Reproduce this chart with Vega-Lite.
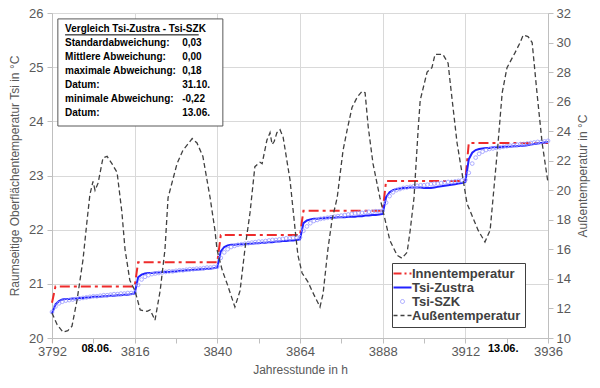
{
"$schema": "https://vega.github.io/schema/vega-lite/v6.json",
"width": 496, "height": 325,
"autosize": {"type": "none"},
"padding": {"left": 52, "top": 13, "right": 52, "bottom": 50},
"config": {
  "font": "Liberation Sans",
  "view": {"stroke": null},
  "axis": {"labelColor": "#595959", "titleColor": "#595959", "labelFontSize": 13, "titleFontSize": 12, "titleFontWeight": "normal", "domainColor": "#bfbfbf", "tickColor": "#bfbfbf", "tickSize": 5, "labelOverlap": false},
  "legend": {"orient": "none", "legendX": 340, "legendY": 250, "strokeColor": "#404040", "fillColor": "white", "padding": 4, "rowPadding": 0, "labelFontSize": 13, "labelFontWeight": "bold", "labelColor": "#404040", "symbolSize": 324, "labelOffset": 3, "titlePadding": 0}
},
"datasets": {
"hourly": [
{"h":3792,"zustra":20.45,"szk":20.48},{"h":3793,"zustra":20.62,"szk":20.58},{"h":3794,"zustra":20.68,"szk":20.64},{"h":3795,"zustra":20.71,"szk":20.67},{"h":3796,"zustra":20.72,"szk":20.69},{"h":3797,"zustra":20.72,"szk":20.70},{"h":3798,"zustra":20.73,"szk":20.71},{"h":3799,"zustra":20.73,"szk":20.72},{"h":3800,"zustra":20.74,"szk":20.73},{"h":3801,"zustra":20.74,"szk":20.74},{"h":3802,"zustra":20.75,"szk":20.75},{"h":3803,"zustra":20.75,"szk":20.76},{"h":3804,"zustra":20.76,"szk":20.77},{"h":3805,"zustra":20.76,"szk":20.77},{"h":3806,"zustra":20.76,"szk":20.78},{"h":3807,"zustra":20.77,"szk":20.79},{"h":3808,"zustra":20.77,"szk":20.79},{"h":3809,"zustra":20.78,"szk":20.80},{"h":3810,"zustra":20.78,"szk":20.81},{"h":3811,"zustra":20.79,"szk":20.81},{"h":3812,"zustra":20.79,"szk":20.82},{"h":3813,"zustra":20.80,"szk":20.82},{"h":3814,"zustra":20.80,"szk":20.83},{"h":3815,"zustra":20.81,"szk":20.83},{"h":3816,"zustra":20.82,"szk":20.84},
{"h":3817,"zustra":21.12,"szk":20.98},{"h":3818,"zustra":21.17,"szk":21.08},{"h":3819,"zustra":21.19,"szk":21.13},{"h":3820,"zustra":21.20,"szk":21.16},{"h":3821,"zustra":21.20,"szk":21.18},{"h":3822,"zustra":21.21,"szk":21.19},{"h":3823,"zustra":21.21,"szk":21.20},{"h":3824,"zustra":21.22,"szk":21.21},{"h":3825,"zustra":21.22,"szk":21.22},{"h":3826,"zustra":21.22,"szk":21.23},{"h":3827,"zustra":21.23,"szk":21.23},{"h":3828,"zustra":21.23,"szk":21.24},{"h":3829,"zustra":21.24,"szk":21.25},{"h":3830,"zustra":21.24,"szk":21.25},{"h":3831,"zustra":21.25,"szk":21.26},{"h":3832,"zustra":21.25,"szk":21.27},{"h":3833,"zustra":21.26,"szk":21.27},{"h":3834,"zustra":21.26,"szk":21.28},{"h":3835,"zustra":21.27,"szk":21.28},{"h":3836,"zustra":21.27,"szk":21.29},{"h":3837,"zustra":21.28,"szk":21.30},{"h":3838,"zustra":21.28,"szk":21.30},{"h":3839,"zustra":21.29,"szk":21.31},{"h":3840,"zustra":21.30,"szk":21.32},
{"h":3841,"zustra":21.60,"szk":21.48},{"h":3842,"zustra":21.68,"szk":21.58},{"h":3843,"zustra":21.71,"szk":21.64},{"h":3844,"zustra":21.72,"szk":21.68},{"h":3845,"zustra":21.72,"szk":21.70},{"h":3846,"zustra":21.73,"szk":21.72},{"h":3847,"zustra":21.73,"szk":21.73},{"h":3848,"zustra":21.73,"szk":21.74},{"h":3849,"zustra":21.74,"szk":21.75},{"h":3850,"zustra":21.74,"szk":21.76},{"h":3851,"zustra":21.75,"szk":21.77},{"h":3852,"zustra":21.75,"szk":21.78},{"h":3853,"zustra":21.76,"szk":21.78},{"h":3854,"zustra":21.76,"szk":21.79},{"h":3855,"zustra":21.77,"szk":21.80},{"h":3856,"zustra":21.77,"szk":21.81},{"h":3857,"zustra":21.78,"szk":21.81},{"h":3858,"zustra":21.78,"szk":21.82},{"h":3859,"zustra":21.79,"szk":21.83},{"h":3860,"zustra":21.79,"szk":21.84},{"h":3861,"zustra":21.80,"szk":21.84},{"h":3862,"zustra":21.80,"szk":21.85},{"h":3863,"zustra":21.81,"szk":21.86},{"h":3864,"zustra":21.82,"szk":21.86},
{"h":3865,"zustra":22.12,"szk":21.98},{"h":3866,"zustra":22.17,"szk":22.06},{"h":3867,"zustra":22.19,"szk":22.12},{"h":3868,"zustra":22.20,"szk":22.16},{"h":3869,"zustra":22.20,"szk":22.18},{"h":3870,"zustra":22.21,"szk":22.20},{"h":3871,"zustra":22.21,"szk":22.21},{"h":3872,"zustra":22.22,"szk":22.22},{"h":3873,"zustra":22.22,"szk":22.23},{"h":3874,"zustra":22.22,"szk":22.24},{"h":3875,"zustra":22.23,"szk":22.25},{"h":3876,"zustra":22.23,"szk":22.26},{"h":3877,"zustra":22.23,"szk":22.27},{"h":3878,"zustra":22.24,"szk":22.28},{"h":3879,"zustra":22.24,"szk":22.29},{"h":3880,"zustra":22.24,"szk":22.30},{"h":3881,"zustra":22.25,"szk":22.31},{"h":3882,"zustra":22.25,"szk":22.31},{"h":3883,"zustra":22.26,"szk":22.32},{"h":3884,"zustra":22.26,"szk":22.33},{"h":3885,"zustra":22.27,"szk":22.33},{"h":3886,"zustra":22.27,"szk":22.34},{"h":3887,"zustra":22.28,"szk":22.34},{"h":3888,"zustra":22.29,"szk":22.35},
{"h":3889,"zustra":22.60,"szk":22.50},{"h":3890,"zustra":22.69,"szk":22.62},{"h":3891,"zustra":22.73,"szk":22.69},{"h":3892,"zustra":22.75,"szk":22.73},{"h":3893,"zustra":22.76,"szk":22.75},{"h":3894,"zustra":22.77,"szk":22.77},{"h":3895,"zustra":22.77,"szk":22.78},{"h":3896,"zustra":22.78,"szk":22.79},{"h":3897,"zustra":22.78,"szk":22.80},{"h":3898,"zustra":22.78,"szk":22.81},{"h":3899,"zustra":22.78,"szk":22.82},{"h":3900,"zustra":22.77,"szk":22.82},{"h":3901,"zustra":22.77,"szk":22.83},{"h":3902,"zustra":22.77,"szk":22.84},{"h":3903,"zustra":22.78,"szk":22.85},{"h":3904,"zustra":22.79,"szk":22.85},{"h":3905,"zustra":22.80,"szk":22.86},{"h":3906,"zustra":22.81,"szk":22.87},{"h":3907,"zustra":22.82,"szk":22.88},{"h":3908,"zustra":22.83,"szk":22.88},{"h":3909,"zustra":22.84,"szk":22.89},{"h":3910,"zustra":22.85,"szk":22.90},{"h":3911,"zustra":22.86,"szk":22.91},{"h":3912,"zustra":22.88,"szk":22.92},
{"h":3913,"zustra":23.30,"szk":23.05},{"h":3914,"zustra":23.42,"szk":23.22},{"h":3915,"zustra":23.47,"szk":23.33},{"h":3916,"zustra":23.49,"szk":23.40},{"h":3917,"zustra":23.50,"szk":23.44},{"h":3918,"zustra":23.51,"szk":23.47},{"h":3919,"zustra":23.51,"szk":23.49},{"h":3920,"zustra":23.52,"szk":23.50},{"h":3921,"zustra":23.52,"szk":23.51},{"h":3922,"zustra":23.52,"szk":23.52},{"h":3923,"zustra":23.53,"szk":23.53},{"h":3924,"zustra":23.53,"szk":23.54},{"h":3925,"zustra":23.53,"szk":23.55},{"h":3926,"zustra":23.54,"szk":23.56},{"h":3927,"zustra":23.54,"szk":23.57},{"h":3928,"zustra":23.55,"szk":23.58},{"h":3929,"zustra":23.55,"szk":23.58},{"h":3930,"zustra":23.56,"szk":23.59},{"h":3931,"zustra":23.57,"szk":23.60},{"h":3932,"zustra":23.58,"szk":23.61},{"h":3933,"zustra":23.59,"szk":23.62},{"h":3934,"zustra":23.60,"szk":23.62},{"h":3935,"zustra":23.61,"szk":23.63},{"h":3936,"zustra":23.62,"szk":23.64}
],
"aussen": [
{"h":3792,"t":11.7},{"h":3793.5,"t":10.9},{"h":3795.2,"t":10.4},{"h":3796.6,"t":10.5},{"h":3797.8,"t":10.8},{"h":3799.3,"t":12.6},{"h":3801,"t":15.3},{"h":3802.2,"t":18.0},{"h":3803,"t":19.7},{"h":3803.9,"t":20.6},{"h":3804.5,"t":20.0},{"h":3805.4,"t":20.5},{"h":3806.8,"t":22.2},{"h":3808,"t":22.3},{"h":3809.4,"t":21.8},{"h":3810.9,"t":21.2},{"h":3812.3,"t":18.5},{"h":3813.2,"t":16.0},{"h":3814.6,"t":13.9},{"h":3816.1,"t":13.2},{"h":3817.6,"t":11.9},{"h":3819.6,"t":11.8},{"h":3820.5,"t":11.9},{"h":3821.9,"t":11.2},{"h":3823.4,"t":13.2},{"h":3824.8,"t":16.0},{"h":3825.7,"t":19.5},{"h":3828.3,"t":21.8},{"h":3830,"t":22.7},{"h":3832.7,"t":23.5},{"h":3834.1,"t":23.2},{"h":3835.8,"t":22.3},{"h":3837.9,"t":19.5},{"h":3839.3,"t":17.3},{"h":3839.9,"t":16.0},{"h":3841.4,"t":14.6},{"h":3842.8,"t":13.7},{"h":3845.1,"t":12.1},{"h":3846.6,"t":13.2},{"h":3848,"t":16.0},{"h":3849.5,"t":18.5},{"h":3850.9,"t":21.6},{"h":3852.4,"t":21.9},{"h":3853,"t":21.8},{"h":3854.4,"t":23.4},{"h":3855.3,"t":23.9},{"h":3855.9,"t":23.1},{"h":3856.5,"t":23.3},{"h":3857.3,"t":23.9},{"h":3858.2,"t":24.1},{"h":3859.1,"t":23.6},{"h":3861.1,"t":20.7},{"h":3862.6,"t":17.3},{"h":3863.4,"t":15.6},{"h":3864.6,"t":14.4},{"h":3866.3,"t":13.8},{"h":3868.1,"t":12.9},{"h":3869.8,"t":12.1},{"h":3870.7,"t":13.0},{"h":3872.1,"t":16.0},{"h":3873.3,"t":18.0},{"h":3874.8,"t":19.5},{"h":3876.5,"t":22.7},{"h":3877.7,"t":24.1},{"h":3879.1,"t":25.6},{"h":3880.6,"t":26.3},{"h":3882,"t":26.7},{"h":3882.9,"t":26.6},{"h":3883.8,"t":24.3},{"h":3885.2,"t":21.8},{"h":3887.2,"t":19.5},{"h":3890.1,"t":16.6},{"h":3892.2,"t":15.6},{"h":3893.6,"t":15.4},{"h":3895.1,"t":15.8},{"h":3896,"t":17.3},{"h":3897.1,"t":19.5},{"h":3898.3,"t":24.1},{"h":3898.9,"t":26.1},{"h":3900.9,"t":28.0},{"h":3902.3,"t":28.3},{"h":3903.2,"t":29.2},{"h":3905.5,"t":29.2},{"h":3907,"t":28.6},{"h":3907.6,"t":27.3},{"h":3909.6,"t":23.2},{"h":3912.5,"t":19.1},{"h":3915.7,"t":17.3},{"h":3917.7,"t":16.5},{"h":3919.2,"t":17.3},{"h":3921.5,"t":23.2},{"h":3922.7,"t":26.6},{"h":3924.1,"t":28.3},{"h":3926.4,"t":29.3},{"h":3927.9,"t":30.0},{"h":3928.8,"t":30.5},{"h":3930.2,"t":30.4},{"h":3931.4,"t":30.0},{"h":3932.8,"t":26.6},{"h":3934.3,"t":23.2},{"h":3936,"t":20.5}
],
"innen": [
{"h":3792,"t":20.65},{"h":3793,"t":20.95},{"h":3816,"t":20.95},{"h":3817,"t":21.4},{"h":3840,"t":21.4},{"h":3841,"t":21.9},{"h":3864,"t":21.9},{"h":3865,"t":22.35},{"h":3888,"t":22.35},{"h":3889,"t":22.9},{"h":3912,"t":22.9},{"h":3913,"t":23.6},{"h":3936,"t":23.6}
],
"dates": [{"h":3805,"t":"08.06."},{"h":3923,"t":"13.06."}],
"box": [
{"line":0,"label":"Vergleich Tsi-Zustra - Tsi-SZK","value":""},
{"line":1,"label":"Standardabweichung:","value":"0,03"},
{"line":2,"label":"Mittlere Abweichung:","value":"0,00"},
{"line":3,"label":"maximale Abweichung:","value":"0,18"},
{"line":4,"label":"Datum:","value":"31.10."},
{"line":5,"label":"minimale Abweichung:","value":"-0,22"},
{"line":6,"label":"Datum:","value":"13.06."}
]
},
"layer": [
{"layer": [
  {"data": {"name": "innen"},
   "mark": {"type": "line", "strokeWidth": 2, "strokeDash": [10, 4, 3, 4]},
   "encoding": {
     "x": {"field": "h", "type": "quantitative", "scale": {"domain": [3792, 3936], "nice": false, "zero": false}, "title": "Jahresstunde in h",
       "axis": {"values": [3792,3804,3816,3828,3840,3852,3864,3876,3888,3900,3912,3924,3936], "format": "d", "labelExpr": "datum.value % 24 === 0 ? datum.label : ''", "labelPadding": 2, "titlePadding": 6, "labelFlush": false, "labelOverlap": false, "grid": true, "gridColor": {"condition": {"test": "datum.value % 24 === 0", "value": "#d9d9d9"}, "value": "transparent"}}},
     "y": {"field": "t", "type": "quantitative", "scale": {"domain": [20, 26], "nice": false, "zero": false}, "title": "Raumseitige Oberflächentemperatur Tsi in °C",
       "axis": {"orient": "left", "values": [20,20.5,21,21.5,22,22.5,23,23.5,24,24.5,25,25.5,26], "labelExpr": "datum.value % 1 === 0 ? format(datum.value, 'd') : ''", "labelPadding": 4, "titlePadding": 7, "labelOverlap": false, "grid": true, "gridColor": {"condition": {"test": "datum.value % 1 === 0", "value": "#d9d9d9"}, "value": "#eeeeee"}}},
     "color": {"datum": "Innentemperatur", "type": "nominal",
       "scale": {"domain": ["Innentemperatur", "Tsi-Zustra", "Tsi-SZK", "Außentemperatur"], "range": ["#ee2b2b", "#2222ff", "#9f9fff", "#404040"]},
       "legend": {"title": null, "encode": {"symbols": {"update": {
          "shape": {"signal": "datum.value === 'Tsi-SZK' ? 'circle' : 'stroke'"},
          "size": {"signal": "datum.value === 'Tsi-SZK' ? 16 : 324"},
          "strokeDash": {"signal": "datum.value === 'Innentemperatur' ? [8,3,2,3] : datum.value === 'Außentemperatur' ? [4,3] : [1,0]"},
          "strokeWidth": {"signal": "datum.value === 'Tsi-SZK' ? 1 : datum.value === 'Außentemperatur' ? 1.5 : 2"},
          "stroke": {"scale": "color", "field": "value"},
          "fill": {"value": "transparent"}}}}}}
   }},
  {"data": {"name": "hourly"},
   "mark": {"type": "line", "strokeWidth": 2},
   "encoding": {
     "x": {"field": "h", "type": "quantitative", "title": "Jahresstunde in h"},
     "y": {"field": "zustra", "type": "quantitative", "title": "Raumseitige Oberflächentemperatur Tsi in °C"},
     "color": {"datum": "Tsi-Zustra", "type": "nominal"}
   }},
  {"data": {"name": "hourly"},
   "mark": {"type": "point", "filled": false, "size": 14, "strokeWidth": 1, "opacity": 0.85},
   "encoding": {
     "x": {"field": "h", "type": "quantitative", "title": "Jahresstunde in h"},
     "y": {"field": "szk", "type": "quantitative", "title": "Raumseitige Oberflächentemperatur Tsi in °C"},
     "color": {"datum": "Tsi-SZK", "type": "nominal"}
   }},
  {"data": {"name": "dates"},
   "mark": {"type": "text", "fontWeight": "bold", "fontSize": 11, "color": "#000000", "dy": 11, "baseline": "middle", "align": "center"},
   "encoding": {
     "x": {"field": "h", "type": "quantitative", "title": "Jahresstunde in h"},
     "y": {"datum": 20, "type": "quantitative", "title": "Raumseitige Oberflächentemperatur Tsi in °C"},
     "text": {"field": "t"}
   }}
]},
{"layer": [
  {"data": {"name": "aussen"},
   "mark": {"type": "line", "strokeWidth": 1.3, "strokeDash": [5, 3]},
   "encoding": {
     "x": {"field": "h", "type": "quantitative", "title": "Jahresstunde in h"},
     "y": {"field": "t", "type": "quantitative", "scale": {"domain": [10, 32], "nice": false, "zero": false}, "title": "Außentemperatur in °C",
       "axis": {"orient": "right", "tickCount": 11, "format": "d", "labelOverlap": false, "labelBound": false, "grid": false, "labelPadding": 3, "titlePadding": 7, "titleAngle": 270, "titleBaseline": "top"}},
     "color": {"datum": "Außentemperatur", "type": "nominal"}
   }},
  {"data": {"values": [{"box": "Vergleich"}]},
   "mark": {"type": "rect", "fill": "white", "stroke": "#595959", "strokeWidth": 1},
   "encoding": {
     "x": {"datum": 3793.7, "type": "quantitative"},
     "x2": {"datum": 3841.6},
     "y": {"datum": 31.6, "type": "quantitative", "title": "Außentemperatur in °C"},
     "y2": {"datum": 24.35}
   }},
  {"data": {"values": [{"box": "Vergleich"}]},
   "mark": {"type": "rule", "stroke": "#000000", "strokeWidth": 1},
   "encoding": {
     "x": {"datum": 3795.8, "type": "quantitative"},
     "x2": {"datum": 3834.6},
     "y": {"datum": 30.52, "type": "quantitative", "title": "Außentemperatur in °C"}
   }},
  {"data": {"name": "box"},
   "mark": {"type": "text", "align": "left", "baseline": "middle", "fontWeight": "bold", "fontSize": 10, "color": "#000000"},
   "encoding": {
     "x": {"datum": 3795.8, "type": "quantitative"},
     "y": {"datum": 30.92, "type": "quantitative", "title": "Außentemperatur in °C"},
     "yOffset": {"field": "line", "type": "quantitative", "scale": {"domain": [0, 6], "range": [0, 84]}},
     "text": {"field": "label"}
   }},
  {"data": {"name": "box"},
   "mark": {"type": "text", "align": "left", "baseline": "middle", "fontWeight": "bold", "fontSize": 10, "color": "#000000"},
   "encoding": {
     "x": {"datum": 3829.8, "type": "quantitative"},
     "y": {"datum": 30.92, "type": "quantitative", "title": "Außentemperatur in °C"},
     "yOffset": {"field": "line", "type": "quantitative", "scale": {"domain": [0, 6], "range": [0, 84]}},
     "text": {"field": "value"}
   }}
]}
],
"resolve": {"scale": {"y": "independent"}}
}
